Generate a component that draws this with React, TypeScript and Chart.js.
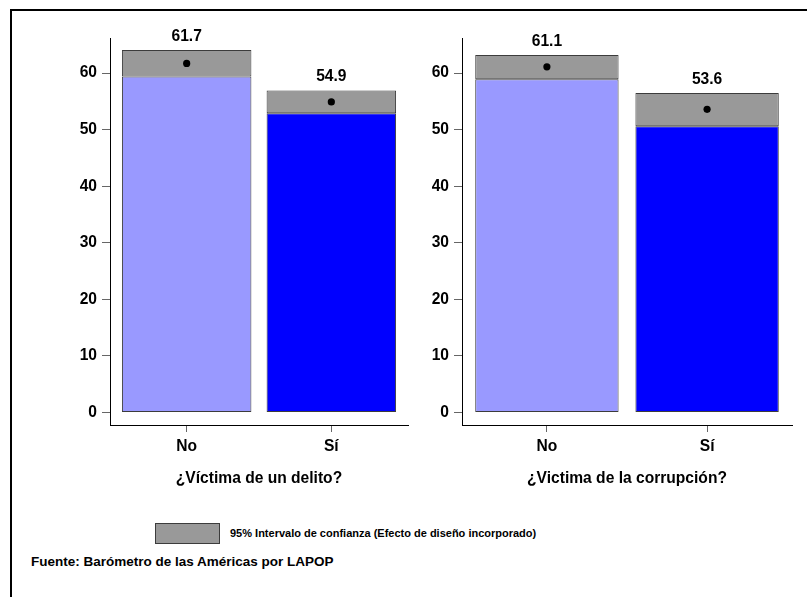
import React, { useEffect, useRef } from "react";
import { Chart, registerables } from "chart.js";

Chart.register(...registerables);

// ---------- data ----------
const categories = ["No", "Sí"];
const crimeMeans = [61.7, 54.9];
const crimeLower = [59.4, 52.9];
const crimeUpper = [64.1, 56.9];
const corruptionMeans = [61.1, 53.6];
const corruptionLower = [58.9, 50.6];
const corruptionUpper = [63.2, 56.5];
const yTickValues = [0, 10, 20, 30, 40, 50, 60];
const crimeTitle = "¿Víctima de un delito?";
const corruptionTitle = "¿Victima de la corrupción?";
const legendLabel = "95% Intervalo de confianza (Efecto de diseño incorporado)";
const sourceNote = "Fuente: Barómetro de las Américas por LAPOP";

// ---------- styles ----------
const barColors = ["#9999FF", "#0000FF"];
const ciColor = "#999999";
const outline = "#3c3c3c";
const FONT_FAMILY = '"Liberation Sans", Arial, Helvetica, sans-serif';
const chartFont = { family: FONT_FAMILY, size: 15.6, weight: "bold" as const };

const valueLabelPlugin = {
  id: "valueLabels",
  afterDatasetsDraw(chart: any, _args: any, opts: any) {
    const { ctx } = chart;
    const x = chart.scales.x;
    const y = chart.scales.y;
    ctx.save();
    ctx.font = `bold ${chartFont.size}px ${FONT_FAMILY}`;
    ctx.fillStyle = "#000";
    ctx.textAlign = "center";
    ctx.textBaseline = "middle";
    (opts.means as number[]).forEach((m, i) => {
      ctx.fillText(m.toFixed(1), x.getPixelForValue(i), y.getPixelForValue(opts.upper[i]) - 13.5);
    });
    ctx.restore();
  },
};

function makeConfig(
  means: number[],
  lower: number[],
  upper: number[],
  title: string,
  yWidth: number,
  padRight: number
): any {
  return {
    type: "bar",
    data: {
      datasets: [
        {
          type: "scatter",
          data: means.map((m, i) => ({ x: i, y: m })),
          pointRadius: 3.6,
          pointHoverRadius: 3.6,
          backgroundColor: "#000",
          borderColor: "#000",
          borderWidth: 0,
          order: 1,
        },
        {
          type: "bar",
          data: categories.map((_, i) => ({ x: i, y: [lower[i], upper[i]] })),
          backgroundColor: ciColor,
          borderColor: outline,
          borderWidth: 1,
          borderSkipped: false,
          grouped: false,
          barPercentage: 0.895,
          categoryPercentage: 1,
          order: 2,
        },
        {
          type: "bar",
          data: categories.map((_, i) => ({ x: i, y: [0, lower[i]] })),
          backgroundColor: barColors,
          borderColor: outline,
          borderWidth: 1,
          borderSkipped: false,
          grouped: false,
          barPercentage: 0.895,
          categoryPercentage: 1,
          order: 3,
        },
      ],
    },
    options: {
      animation: false,
      responsive: false,
      events: [],
      layout: { padding: { left: 0, top: 38, right: padRight, bottom: 0 } },
      plugins: {
        legend: { display: false },
        tooltip: { enabled: false },
        valueLabels: { means, upper },
      },
      scales: {
        x: {
          type: "linear",
          offset: false,
          min: -0.53,
          max: 1.53,
          afterBuildTicks: (s: any) => {
            s.ticks = categories.map((_, i) => ({ value: i }));
          },
          afterFit: (s: any) => {
            s.height = 75;
          },
          grid: {
            display: true,
            offset: false,
            drawOnChartArea: false,
            drawTicks: true,
            tickLength: 7,
            color: "#666",
          },
          border: { display: true, color: "#000", width: 1 },
          ticks: {
            callback: (v: any) => categories[v],
            font: chartFont,
            color: "#000",
            padding: 5,
            maxRotation: 0,
            autoSkip: false,
          },
          title: {
            display: true,
            text: title,
            font: chartFont,
            color: "#000",
            padding: { top: 0, bottom: 12 },
          },
        },
        y: {
          min: -2.2,
          max: 66.2,
          afterBuildTicks: (s: any) => {
            s.ticks = yTickValues.map((v) => ({ value: v }));
          },
          afterFit: (s: any) => {
            s.width = yWidth;
          },
          grid: { display: true, drawOnChartArea: false, drawTicks: true, tickLength: 8, color: "#666" },
          border: { display: true, color: "#000", width: 1 },
          ticks: { font: chartFont, color: "#000", padding: 5 },
        },
      },
    },
    plugins: [valueLabelPlugin],
  };
}

function Panel(props: {
  left: number;
  width: number;
  means: number[];
  lower: number[];
  upper: number[];
  title: string;
  yWidth: number;
  padRight: number;
}) {
  const ref = useRef<HTMLCanvasElement | null>(null);
  useEffect(() => {
    if (!ref.current) return;
    const chart = new Chart(
      ref.current,
      makeConfig(props.means, props.lower, props.upper, props.title, props.yWidth, props.padRight)
    );
    return () => chart.destroy();
  }, []);
  return (
    <canvas
      ref={ref}
      width={props.width}
      height={500}
      style={{ position: "absolute", left: props.left, top: 0, width: props.width, height: 500 }}
    />
  );
}

export default function App() {
  return (
    <div
      style={{
        position: "fixed",
        left: 0,
        top: 0,
        width: 807,
        height: 597,
        overflow: "hidden",
        background: "#fff",
        fontFamily: FONT_FAMILY,
      }}
    >
      <div
        style={{
          position: "absolute",
          left: 10,
          top: 9,
          width: 900,
          height: 700,
          border: "2px solid #000",
        }}
      />
      <Panel
        left={0}
        width={430}
        means={crimeMeans}
        lower={crimeLower}
        upper={crimeUpper}
        title={crimeTitle}
        yWidth={110}
        padRight={22}
      />
      <Panel
        left={420}
        width={387}
        means={corruptionMeans}
        lower={corruptionLower}
        upper={corruptionUpper}
        title={corruptionTitle}
        yWidth={42}
        padRight={15}
      />
      <div
        style={{
          position: "absolute",
          left: 155,
          top: 523,
          width: 65,
          height: 21,
          boxSizing: "border-box",
          background: ciColor,
          border: `1px solid ${outline}`,
        }}
      />
      <div
        style={{
          position: "absolute",
          left: 230,
          top: 526,
          fontSize: 11,
          lineHeight: "14px",
          fontWeight: "bold",
          color: "#000",
          whiteSpace: "nowrap",
        }}
      >
        {legendLabel}
      </div>
      <div
        style={{
          position: "absolute",
          left: 31,
          top: 554,
          fontSize: 13.5,
          lineHeight: "16px",
          fontWeight: "bold",
          color: "#000",
          whiteSpace: "nowrap",
        }}
      >
        {sourceNote}
      </div>
    </div>
  );
}
